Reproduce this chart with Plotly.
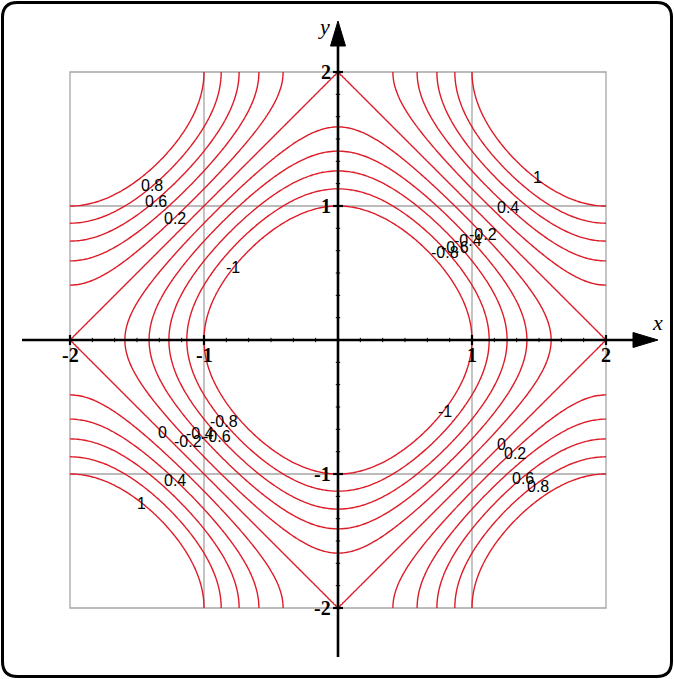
import numpy as np
import plotly.graph_objects as go

# Surface f(x, y) = -(cos(pi x / 2) + cos(pi y / 2)) on the square [-2, 2]^2
def surface(x, y):
    return -(np.cos(np.pi * x / 2) + np.cos(np.pi * y / 2))

x_limits = [-2, 2]
y_limits = [-2, 2]
contour_start, contour_end, contour_step = -1.0, 1.0, 0.2

# Axis tick values and their labels
x_ticks = [-2, -1, 1, 2]
x_tick_labels = ["-2", "-1", "1", "2"]
y_ticks = [-2, -1, 1, 2]
y_tick_labels = ["-2", "-1", "1", "2"]
grid_values = [-1, 1]

# Contour level labels (text, x, y)
label_text = ["0.8", "0.6", "0.2", "-1",
              "1", "0.4", "-0.8", "-0.6", "-0.4", "-0.2",
              "0", "-0.2", "-0.4", "-0.6", "-0.8", "0.4", "1",
              "-1", "0", "0.2", "0.6", "0.8"]
label_x = [-1.39, -1.36, -1.22, -0.78,
           1.49, 1.27, 0.80, 0.87, 0.97, 1.08,
           -1.31, -1.12, -1.03, -0.90, -0.85, -1.22, -1.47,
           0.80, 1.22, 1.32, 1.38, 1.49]
label_y = [1.15, 1.03, 0.91, 0.54,
           1.21, 0.99, 0.65, 0.69, 0.74, 0.79,
           -0.69, -0.76, -0.70, -0.72, -0.61, -1.05, -1.22,
           -0.53, -0.78, -0.85, -1.03, -1.09]

W, H = 674, 679
PX = 134.0          # pixels per unit
CX, CY = 338.0, 340.0  # pixel position of the origin


def dx(px):
    return (px - CX) / PX


def dy(py):
    return (CY - py) / PX


xs = np.linspace(x_limits[0], x_limits[1], 200)
ys = np.linspace(y_limits[0], y_limits[1], 200)
Z = surface(xs[None, :], ys[:, None])

RED = "rgb(222,28,40)"
GRAY = "rgb(165,165,165)"

fig = go.Figure()
fig.add_trace(go.Contour(
    x=xs, y=ys, z=Z,
    contours=dict(start=contour_start, end=contour_end + 1e-4,
                  size=contour_step, coloring="none"),
    line=dict(color=RED, width=1.4, smoothing=1),
    showscale=False, hoverinfo="skip",
))

shapes = []
# gray frame and grid lines
shapes.append(dict(type="rect", xref="x", yref="y",
                   x0=x_limits[0], x1=x_limits[1], y0=y_limits[0], y1=y_limits[1],
                   line=dict(color=GRAY, width=1.3), layer="below"))
for g in grid_values:
    shapes.append(dict(type="line", xref="x", yref="y", x0=g, x1=g,
                       y0=y_limits[0], y1=y_limits[1],
                       line=dict(color=GRAY, width=1.3), layer="below"))
    shapes.append(dict(type="line", xref="x", yref="y", y0=g, y1=g,
                       x0=x_limits[0], x1=x_limits[1],
                       line=dict(color=GRAY, width=1.3), layer="below"))

# coordinate axes with arrow heads
ax_w = 2.6
shapes.append(dict(type="line", xref="x", yref="y", x0=dx(22), x1=dx(640), y0=0, y1=0,
                   line=dict(color="black", width=ax_w)))
shapes.append(dict(type="line", xref="x", yref="y", y0=dy(657), y1=dy(38), x0=0, x1=0,
                   line=dict(color="black", width=ax_w)))
hw = 7.5 / PX
shapes.append(dict(type="path", xref="x", yref="y",
                   path=f"M {dx(633)} {-hw} L {dx(658)} 0 L {dx(633)} {hw} Z",
                   fillcolor="black", line=dict(color="black", width=1)))
shapes.append(dict(type="path", xref="x", yref="y",
                   path=f"M {-hw} {dy(46)} L 0 {dy(21)} L {hw} {dy(46)} Z",
                   fillcolor="black", line=dict(color="black", width=1)))

# major and minor tick marks
for t in x_ticks:
    shapes.append(dict(type="line", xref="x", yref="y", x0=t, x1=t,
                       y0=-5 / PX, y1=5 / PX, line=dict(color="black", width=2.2)))
for t in y_ticks:
    shapes.append(dict(type="line", xref="x", yref="y", y0=t, y1=t,
                       x0=-5 / PX, x1=5 / PX, line=dict(color="black", width=2.2)))
minor = np.arange(-12, 13) / 6.0
for m in minor:
    if abs(m) < 1e-9:
        continue
    shapes.append(dict(type="line", xref="x", yref="y", x0=m, x1=m,
                       y0=-2.2 / PX, y1=2.2 / PX, line=dict(color="black", width=1)))
    shapes.append(dict(type="line", xref="x", yref="y", y0=m, y1=m,
                       x0=-2.2 / PX, x1=2.2 / PX, line=dict(color="black", width=1)))

# rounded outer border
r = 15.0
x0p, x1p, y0p, y1p = 2.5, 671.5, 2.5, 676.5


def P(px, py):
    return f"{px / W} {1 - py / H}"


border = (f"M {P(x0p + r, y0p)} L {P(x1p - r, y0p)} Q {P(x1p, y0p)} {P(x1p, y0p + r)} "
          f"L {P(x1p, y1p - r)} Q {P(x1p, y1p)} {P(x1p - r, y1p)} "
          f"L {P(x0p + r, y1p)} Q {P(x0p, y1p)} {P(x0p, y1p - r)} "
          f"L {P(x0p, y0p + r)} Q {P(x0p, y0p)} {P(x0p + r, y0p)} Z")
shapes.append(dict(type="path", xref="paper", yref="paper", path=border,
                   line=dict(color="black", width=3)))

annotations = []
tick_font = dict(family="Liberation Serif, Times New Roman, serif", size=20, color="black")
for t, s in zip(x_ticks, x_tick_labels):
    annotations.append(dict(x=t, y=dy(355), xref="x", yref="y", text=f"<b>{s}</b>",
                            showarrow=False, font=tick_font, xanchor="center", yanchor="middle"))
for t, s in zip(y_ticks, y_tick_labels):
    annotations.append(dict(x=dx(333), y=t, xref="x", yref="y", text=f"<b>{s}</b>",
                            showarrow=False, font=tick_font, xanchor="right", yanchor="middle"))
axis_font = dict(family="Liberation Serif, Times New Roman, serif", size=22, color="black")
annotations.append(dict(x=dx(657), y=dy(322), xref="x", yref="y", text="<i>x</i>",
                        showarrow=False, font=axis_font))
annotations.append(dict(x=dx(324), y=dy(26), xref="x", yref="y", text="<i>y</i>",
                        showarrow=False, font=axis_font))

label_font = dict(family="Liberation Sans, Arial, sans-serif", size=16, color="black")
for s, lx, ly in zip(label_text, label_x, label_y):
    annotations.append(dict(x=lx, y=ly, xref="x", yref="y", text=s, showarrow=False,
                            font=label_font, xanchor="center", yanchor="middle"))

fig.update_layout(
    width=W, height=H,
    margin=dict(l=0, r=0, t=0, b=0, pad=0),
    paper_bgcolor="white", plot_bgcolor="white",
    xaxis=dict(range=[dx(0), dx(W)], visible=False, fixedrange=True),
    yaxis=dict(range=[dy(H), dy(0)], visible=False, fixedrange=True),
    shapes=shapes, annotations=annotations,
    showlegend=False,
)

fig.write_html("out.html", config={"displayModeBar": False})
